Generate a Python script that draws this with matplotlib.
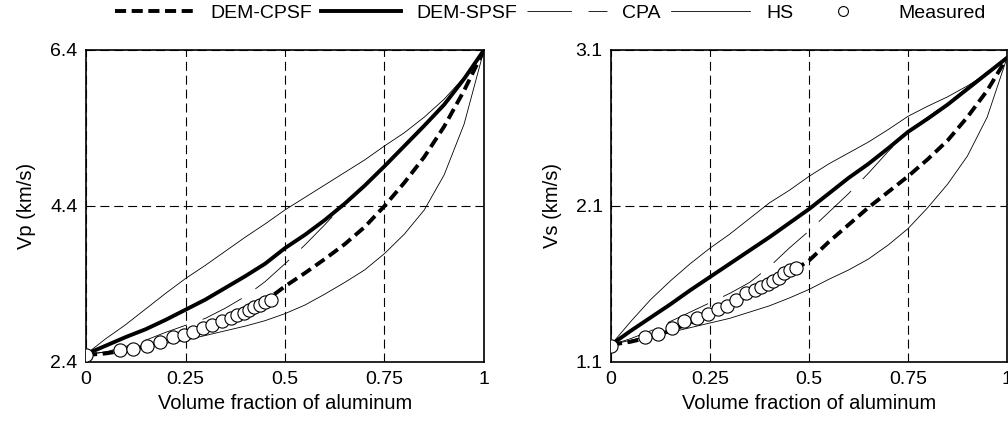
# -*- coding: utf-8 -*-

import sys

import numpy as np
import matplotlib
matplotlib.use('Agg')
import matplotlib.pyplot as plt

# volume fraction grid of the model curves
frac = [0.0, 0.05, 0.1, 0.15, 0.2, 0.25, 0.3, 0.35, 0.4, 0.45, 0.5,
        0.55, 0.6, 0.65, 0.7, 0.75, 0.8, 0.85, 0.9, 0.95, 1.0]

# P-wave velocity (km/s)
vp_hs_upper = [2.5, 2.7, 2.88, 3.08, 3.28, 3.47, 3.64, 3.82, 4.0, 4.17, 4.35,
               4.51, 4.67, 4.83, 4.99, 5.17, 5.34, 5.54, 5.77, 6.05, 6.4]
vp_hs_lower = [2.5, 2.53, 2.56, 2.6, 2.64, 2.68, 2.74, 2.8, 2.86, 2.93, 3.02,
               3.13, 3.27, 3.42, 3.58, 3.79, 4.04, 4.35, 4.8, 5.45, 6.4]
vp_spsf = [2.5, 2.61, 2.72, 2.82, 2.94, 3.07, 3.2, 3.35, 3.5, 3.66, 3.86,
           4.03, 4.22, 4.43, 4.66, 4.91, 5.17, 5.43, 5.7, 6.03, 6.4]
vp_cpsf = [2.49, 2.51, 2.55, 2.6, 2.66, 2.74, 2.83, 2.94, 3.05, 3.18, 3.37,
           3.54, 3.72, 3.91, 4.13, 4.4, 4.7, 5.03, 5.42, 5.88, 6.4]
vp_cpa = [2.49, 2.53, 2.6, 2.68, 2.78, 2.87, 2.96, 3.09, 3.24, 3.43, 3.66,
          3.9, 4.16, 4.43, 4.67, 4.92, 5.18, 5.44, 5.71, 6.04, 6.4]

# S-wave velocity (km/s)
vs_hs_upper = [1.21, 1.36, 1.5, 1.62, 1.73, 1.83, 1.92, 2.02, 2.12, 2.2, 2.29,
               2.37, 2.44, 2.51, 2.59, 2.675, 2.74, 2.8, 2.87, 2.95, 3.05]
vs_hs_lower = [1.21, 1.24, 1.27, 1.29, 1.32, 1.35, 1.38, 1.42, 1.46, 1.51, 1.565,
               1.63, 1.69, 1.76, 1.85, 1.955, 2.09, 2.24, 2.42, 2.67, 3.05]
vs_spsf = [1.21, 1.3, 1.385, 1.47, 1.56, 1.645, 1.73, 1.815, 1.9, 1.99, 2.08,
           2.18, 2.28, 2.37, 2.47, 2.575, 2.66, 2.75, 2.85, 2.95, 3.05]
vs_cpsf = [1.21, 1.23, 1.26, 1.3, 1.35, 1.4, 1.46, 1.53, 1.6, 1.67, 1.75,
           1.87, 1.98, 2.09, 2.19, 2.29, 2.4, 2.52, 2.67, 2.84, 3.05]
vs_cpa = [1.21, 1.25, 1.3, 1.36, 1.42, 1.48, 1.54, 1.61, 1.71, 1.83, 1.94,
          2.06, 2.18, 2.31, 2.45, 2.58, 2.67, 2.76, 2.86, 2.96, 3.05]

# measured samples
frac_meas = [0.0, 0.085, 0.119, 0.153, 0.185, 0.218, 0.245, 0.27, 0.294, 0.316,
             0.341, 0.364, 0.38, 0.397, 0.41, 0.423, 0.438, 0.451, 0.466]
vp_meas = [2.49, 2.55, 2.57, 2.61, 2.66, 2.72, 2.75, 2.79, 2.83, 2.87,
           2.93, 2.96, 3.0, 3.03, 3.07, 3.1, 3.13, 3.17, 3.2]
vs_meas = [1.2, 1.26, 1.28, 1.32, 1.36, 1.38, 1.41, 1.44, 1.46, 1.5,
           1.54, 1.56, 1.58, 1.6, 1.62, 1.64, 1.67, 1.69, 1.7]

x_ticks = [0, 0.25, 0.5, 0.75, 1]
x_ticklabels = ['0', '0.25', '0.5', '0.75', '1']
vp_ticks = [2.4, 4.4, 6.4]
vs_ticks = [1.1, 2.1, 3.1]


def draw_panel(ax, hs_up, hs_lo, cpa, spsf, cpsf, meas, yticks, ylabel):
    ax.plot(frac, hs_up, color='k', lw=0.6, label='HS')
    ax.plot(frac, hs_lo, color='k', lw=0.6)
    ax.plot(frac, cpa, color='k', lw=0.6, dashes=(32, 12), label='CPA')
    ax.plot(frac, spsf, color='k', lw=2.8, label='DEM-SPSF')
    ax.plot(frac, cpsf, color='k', lw=2.8, dashes=(8, 4), label='DEM-CPSF')
    ax.plot(frac_meas, meas, 'o', ms=9.5, mfc='white', mec='k', mew=0.8,
            zorder=5, label='Measured')

    ax.set_xlim([0, 1])
    ax.set_ylim([yticks[0], yticks[-1]])
    ax.set_xticks(x_ticks)
    ax.set_xticklabels(x_ticklabels)
    ax.set_yticks(yticks)
    ax.set_yticklabels(['%.1f' % t for t in yticks])
    ax.tick_params(length=0, labelsize=14)
    ax.tick_params(axis='x', pad=6.5)
    ax.tick_params(axis='y', pad=6)
    ax.grid(True, color='k', lw=0.8, dashes=(6.5, 3.5))
    ax.set_axisbelow(True)
    for sp in ax.spines.values():
        sp.set_linewidth(1.2)
    ax.set_xlabel('Volume fraction of aluminum', fontsize=14.5, labelpad=4)
    ax.set_ylabel(ylabel, fontsize=14.5, labelpad=10)


def main(argv):
    plt.rcParams['font.family'] = ['Liberation Sans', 'DejaVu Sans']
    plt.rcParams['lines.scale_dashes'] = False

    fig = plt.figure(figsize=(10.08, 4.22), dpi=100)
    ax_vp = fig.add_axes([86 / 1008, 60 / 422, 398 / 1008, 312 / 422])
    ax_vs = fig.add_axes([611 / 1008, 60 / 422, 396 / 1008, 312 / 422])

    draw_panel(ax_vp, vp_hs_upper, vp_hs_lower, vp_cpa, vp_spsf, vp_cpsf,
               vp_meas, vp_ticks, 'Vp (km/s)')
    draw_panel(ax_vs, vs_hs_upper, vs_hs_lower, vs_cpa, vs_spsf, vs_cpsf,
               vs_meas, vs_ticks, 'Vs (km/s)')

    handles, labels = ax_vp.get_legend_handles_labels()
    order = ['DEM-CPSF', 'DEM-SPSF', 'CPA', 'HS', 'Measured']
    hmap = dict(zip(labels, handles))
    fig.legend([hmap[k] for k in order], order, loc='center', ncol=5,
               bbox_to_anchor=(550 / 1008, 1 - 13 / 422), frameon=False,
               fontsize=14, handlelength=4.1, handletextpad=0.8,
               columnspacing=0.5, markerscale=0.75, borderpad=0)

    fig.savefig('out.png', dpi=100)


if __name__ == '__main__':
    main(sys.argv)
    sys.exit()
